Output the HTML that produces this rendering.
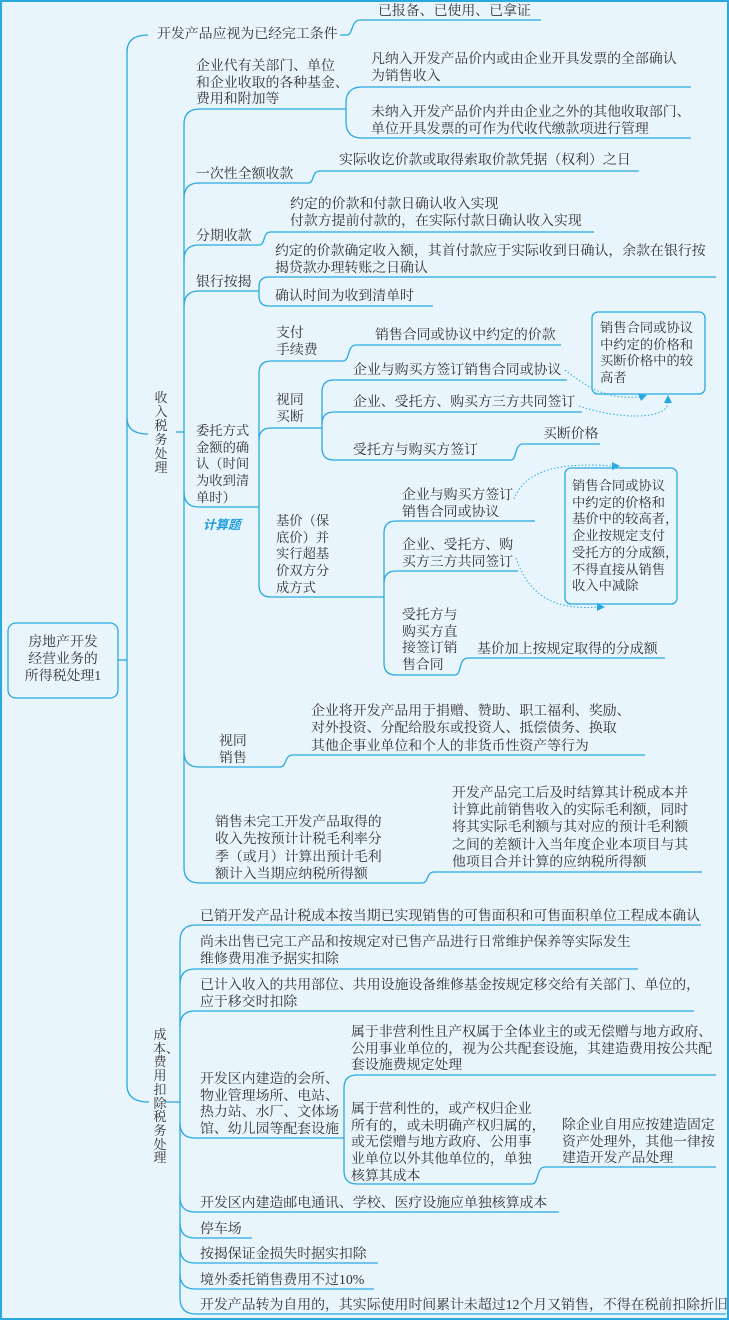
<!DOCTYPE html>
<html><head><meta charset="utf-8">
<style>
html,body{margin:0;padding:0;}
body{width:729px;height:1320px;position:relative;background:#e9f5fc;overflow:hidden;}
.frame{position:absolute;left:0;top:0;width:725px;height:1316px;border:2px solid #29a9e0;}
.t{position:absolute;font-family:"Liberation Serif","Noto Serif CJK SC",serif;font-size:13.9px;line-height:16.7px;color:#333;white-space:nowrap;}
.b{font-size:13.3px;}
.v{position:absolute;font-family:"Liberation Serif","Noto Serif CJK SC",serif;font-size:13px;line-height:14px;color:#333;width:14px;text-align:center;white-space:normal;word-break:break-all;}
.calc{position:absolute;font-family:"Liberation Sans","Noto Sans CJK SC",sans-serif;font-size:12.5px;font-weight:bold;font-style:italic;color:#1e9ee0;white-space:nowrap;}
svg{position:absolute;left:0;top:0;}
</style></head><body>
<div class="frame"></div>
<svg width="729" height="1320" viewBox="0 0 729 1320" fill="none" stroke="#29a9e0" stroke-width="1.3">
<rect x="8" y="623" width="110" height="75" rx="8"/>
<path d="M118,660 L127,660"/>
<path d="M148,35 Q127,35 127,52 L127,1085 Q127,1102 149,1102"/>
<path d="M127,418 Q127,434 148,434"/>
<path d="M176,432 L184,432"/>
<path d="M165,1102 L180,1102"/>
<path d="M340,35 L347,35 C353,35 351,20 360,20 L541,20"/>
<path d="M346,109 L200,109 Q184,109 184,124 L184,868 Q184,883 200,883 L422,883 C429,883 426,872 434,872 L702,872"/>
<path d="M362,87 Q346,87 346,103 L346,122 Q346,138 362,138"/>
<path d="M362,87 L691,87 M362,138 L691,138"/>
<path d="M184,198 Q184,183 199,183 L308,183 C315,183 311,171 320,171 L639,171"/>
<path d="M184,260 Q184,245 199,245 L259,245 C266,245 262,232 271,232 L594,232"/>
<path d="M184,306 Q184,291 199,291 L259,291"/>
<path d="M269,277 Q259,277 259,287 L259,296 Q259,306 269,306"/>
<path d="M269,277 L716,277 M269,306 L433,306"/>
<path d="M184,492 Q184,507 199,507 L259,507"/>
<path d="M271,361 Q259,361 259,373 L259,585 Q259,597 271,597 L384,597"/>
<path d="M259,440 Q259,428 271,428 L322,428"/>
<path d="M271,361 L343,361 C350,361 347,345 356,345 L561,345"/>
<path d="M334,380 Q322,380 322,392 L322,448 Q322,460 334,460 L511,460 C517,460 514,444 523,444 L600,444"/>
<path d="M322,424 Q322,412 334,412 L582,412"/>
<path d="M334,380 L567,380"/>
<path d="M396,521 Q384,521 384,533 L384,663 Q384,675 396,675 L455,675 C462,675 458,658 468,658 L665,658"/>
<path d="M396,521 L535,521"/>
<path d="M384,583 Q384,571 396,571 L518,571"/>
<path d="M184,752 Q184,767 199,767 L280,767 C287,767 284,755 293,755 L645,755"/>
<rect x="592" y="312" width="113" height="82" rx="6"/>
<rect x="565" y="468" width="112" height="136" rx="6"/>
<g stroke-dasharray="1.5 2" stroke-width="1">
<path d="M565,370 C588,388 605,399 640,397"/>
<path d="M579,406 C620,420 668,420 668,402"/>
<path d="M514,499 C525,470 560,462 612,466"/>
<path d="M516,558 C530,600 560,610 598,607"/>
</g>
<g fill="#29a9e0" stroke="none">
<path d="M647,395 L638,394 L641,401 Z"/>
<path d="M668,395 L664,403 L672,403 Z"/>
<path d="M620,466 L612,462 L612,470 Z"/>
<path d="M605,607 L597,603 L597,611 Z"/>
</g>
<path d="M701,925 L196,925 Q180,925 180,941 L180,1298 Q180,1314 196,1314 L726,1314"/>
<path d="M180,984 Q180,969 195,969 L638,969"/>
<path d="M180,1026 Q180,1011 195,1011 L694,1011"/>
<path d="M180,1123 Q180,1138 195,1138 L344,1138"/>
<path d="M357,1075 Q344,1075 344,1088 L344,1171 Q344,1184 357,1184 L532,1184 C539,1184 536,1167 545,1167 L716,1167"/>
<path d="M357,1075 L716,1075"/>
<path d="M180,1197 Q180,1212 195,1212 L559,1212"/>
<path d="M180,1223 Q180,1238 195,1238 L252,1238"/>
<path d="M180,1248 Q180,1263 195,1263 L378,1263"/>
<path d="M180,1274 Q180,1289 195,1289 L374,1289"/>
</svg>

<div class="t" style="left:8px;top:634px;width:110px;text-align:center;line-height:17px;">房地产开发<br>经营业务的<br>所得税处理1</div>
<div class="v" style="left:154px;top:391px;">收入税务处理</div>
<div class="v" style="left:153px;top:1028px;line-height:13.7px;">成本、费用扣除税务处理</div>

<div class="t" style="left:157px;top:27px;">开发产品应视为已经完工条件</div>
<div class="t" style="left:378px;top:4px;">已报备、已使用、已拿证</div>
<div class="t" style="left:196px;top:59px;">企业代有关部门、单位<br>和企业收取的各种基金、<br>费用和附加等</div>
<div class="t" style="left:371px;top:52px;">凡纳入开发产品价内或由企业开具发票的全部确认<br>为销售收入</div>
<div class="t" style="left:371px;top:105px;">未纳入开发产品价内并由企业之外的其他收取部门、<br>单位开具发票的可作为代收代缴款项进行管理</div>
<div class="t" style="left:196px;top:167px;">一次性全额收款</div>
<div class="t" style="left:339px;top:153px;">实际收讫价款或取得索取价款凭据（权利）之日</div>
<div class="t" style="left:196px;top:229px;">分期收款</div>
<div class="t" style="left:290px;top:197px;">约定的价款和付款日确认收入实现<br>付款方提前付款的，在实际付款日确认收入实现</div>
<div class="t" style="left:196px;top:275px;">银行按揭</div>
<div class="t" style="left:275px;top:244px;">约定的价款确定收入额，其首付款应于实际收到日确认，余款在银行按<br>揭贷款办理转账之日确认</div>
<div class="t" style="left:275px;top:289px;">确认时间为收到清单时</div>

<div class="t" style="left:276px;top:326px;">支付<br>手续费</div>
<div class="t" style="left:375px;top:328px;">销售合同或协议中约定的价款</div>
<div class="t" style="left:276px;top:393px;">视同<br>买断</div>
<div class="t" style="left:353px;top:363px;">企业与购买方签订销售合同或协议</div>
<div class="t" style="left:353px;top:395px;">企业、受托方、购买方三方共同签订</div>
<div class="t" style="left:353px;top:443px;">受托方与购买方签订</div>
<div class="t" style="left:543px;top:427px;">买断价格</div>
<div class="t b" style="left:600px;top:320px;">销售合同或协议<br>中约定的价格和<br>买断价格中的较<br>高者</div>
<div class="t b" style="left:196px;top:423px;">委托方式<br>金额的确<br>认（时间<br>为收到清<br>单时）</div>
<div class="calc" style="left:203px;top:514px;">计算题</div>
<div class="t b" style="left:276px;top:513px;">基价（保<br>底价）并<br>实行超基<br>价双方分<br>成方式</div>
<div class="t" style="left:402px;top:488px;">企业与购买方签订<br>销售合同或协议</div>
<div class="t" style="left:402px;top:538px;">企业、受托方、购<br>买方三方共同签订</div>
<div class="t b" style="left:572px;top:478px;">销售合同或协议<br>中约定的价格和<br>基价中的较高者，<br>企业按规定支付<br>受托方的分成额，<br>不得直接从销售<br>收入中减除</div>
<div class="t" style="left:402px;top:608px;">受托方与<br>购买方直<br>接签订销<br>售合同</div>
<div class="t" style="left:477px;top:642px;">基价加上按规定取得的分成额</div>
<div class="t" style="left:219px;top:734px;">视同<br>销售</div>
<div class="t" style="left:311px;top:703px;line-height:17.4px;">企业将开发产品用于捐赠、赞助、职工福利、奖励、<br>对外投资、分配给股东或投资人、抵偿债务、换取<br>其他企事业单位和个人的非货币性资产等行为</div>
<div class="t" style="left:215px;top:814px;line-height:17.4px;">销售未完工开发产品取得的<br>收入先按预计计税毛利率分<br>季（或月）计算出预计毛利<br>额计入当期应纳税所得额</div>
<div class="t" style="left:452px;top:785px;line-height:17.2px;">开发产品完工后及时结算其计税成本并<br>计算此前销售收入的实际毛利额，同时<br>将其实际毛利额与其对应的预计毛利额<br>之间的差额计入当年度企业本项目与其<br>他项目合并计算的应纳税所得额</div>

<div class="t" style="left:200px;top:909px;">已销开发产品计税成本按当期已实现销售的可售面积和可售面积单位工程成本确认</div>
<div class="t" style="left:200px;top:935px;">尚未出售已完工产品和按规定对已售产品进行日常维护保养等实际发生<br>维修费用准予据实扣除</div>
<div class="t" style="left:200px;top:978px;">已计入收入的共用部位、共用设施设备维修基金按规定移交给有关部门、单位的，<br>应于移交时扣除</div>
<div class="t" style="left:200px;top:1072px;">开发区内建造的会所、<br>物业管理场所、电站、<br>热力站、水厂、文体场<br>馆、幼儿园等配套设施</div>
<div class="t" style="left:351px;top:1025px;">属于非营利性且产权属于全体业主的或无偿赠与地方政府、<br>公用事业单位的，视为公共配套设施，其建造费用按公共配<br>套设施费规定处理</div>
<div class="t" style="left:351px;top:1102px;">属于营利性的，或产权归企业<br>所有的，或未明确产权归属的，<br>或无偿赠与地方政府、公用事<br>业单位以外其他单位的，单独<br>核算其成本</div>
<div class="t" style="left:562px;top:1118px;">除企业自用应按建造固定<br>资产处理外，其他一律按<br>建造开发产品处理</div>
<div class="t" style="left:200px;top:1196px;">开发区内建造邮电通讯、学校、医疗设施应单独核算成本</div>
<div class="t" style="left:200px;top:1222px;">停车场</div>
<div class="t" style="left:200px;top:1247px;">按揭保证金损失时据实扣除</div>
<div class="t" style="left:200px;top:1273px;">境外委托销售费用不过10%</div>
<div class="t" style="left:200px;top:1298px;">开发产品转为自用的，其实际使用时间累计未超过12个月又销售，不得在税前扣除折旧</div>
</body></html>
